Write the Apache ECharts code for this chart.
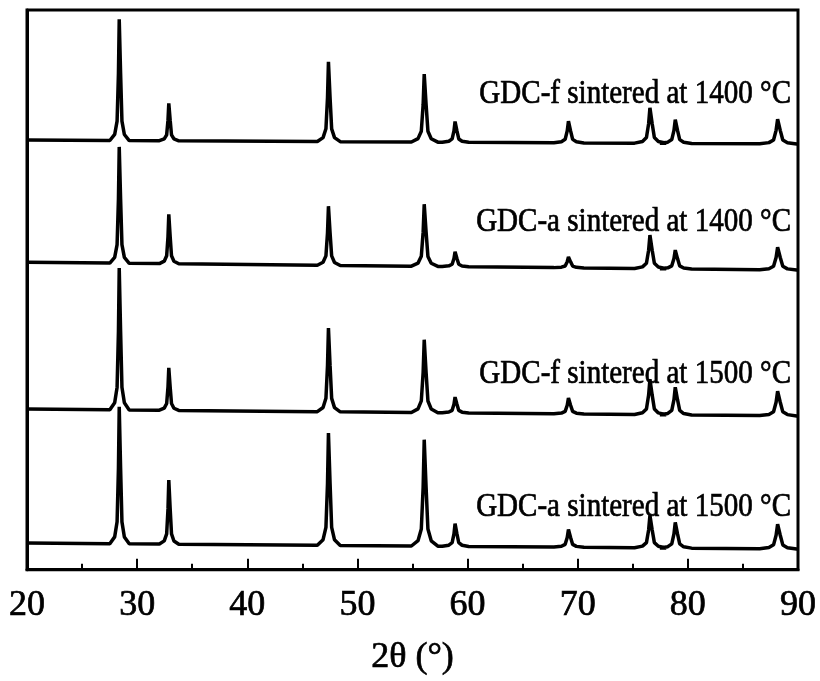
<!DOCTYPE html>
<html>
<head>
<meta charset="utf-8">
<script src="https://cdn.jsdelivr.net/npm/echarts@6/dist/echarts.min.js"></script>
<style>
  html, body { margin: 0; padding: 0; background: #fff; }
  #chart { width: 820px; height: 681px; }
</style>
</head>
<body>
<div id="chart"></div>
<script>
// 2theta tick labels
var xTicks = [20, 30, 40, 50, 60, 70, 80, 90];

// peak positions (2theta) and half widths
var peakPos   = [28.4, 32.9, 47.4, 56.1, 58.9, 69.2, 76.6, 78.9, 88.2];
var peakWidth = [0.22, 0.22, 0.26, 0.3, 0.3, 0.34, 0.36, 0.36, 0.42];

// baseline at 20 and 90 deg, peak heights (a.u.) for every pattern
var names = ['GDC-f sintered at 1400 \u00b0C', 'GDC-a sintered at 1400 \u00b0C',
             'GDC-f sintered at 1500 \u00b0C', 'GDC-a sintered at 1500 \u00b0C'];
var baseF1400 = [436, 432];
var baseA1400 = [312, 304];
var baseF1500 = [163, 156];
var baseA1500 = [27, 21];
var heightF1400 = [123, 38, 81, 69, 21, 22, 36, 24, 25];
var heightA1400 = [118, 50, 60, 63, 15, 11, 34, 19, 23];
var heightF1500 = [144, 43, 85, 74, 16, 16, 36, 28, 25];
var heightA1500 = [139, 65, 114, 108, 23, 18, 33, 26, 25];

// outline of one peak: offset (in half widths) and fraction of height
var shapeOff  = [-4, -2, -1, -0.45, -0.12, 0.12, 0.45, 1, 2, 4];
var shapeFrac = [0, 0.05, 0.16, 0.55, 1, 1, 0.55, 0.16, 0.05, 0];

function buildPattern(base, heights) {
    var pts = [];
    function b(x) { return base[0] + (base[1] - base[0]) * (x - 20) / 70; }
    pts.push([20, b(20)]);
    for (var i = 0; i < peakPos.length; i++) {
        for (var k = 0; k < shapeOff.length; k++) {
            var x = peakPos[i] + shapeOff[k] * peakWidth[i];
            pts.push([x, b(x) + heights[i] * shapeFrac[k]]);
        }
    }
    pts.push([90, b(90)]);
    return pts;
}

var patterns = [
    buildPattern(baseF1400, heightF1400),
    buildPattern(baseA1400, heightA1400),
    buildPattern(baseF1500, heightF1500),
    buildPattern(baseA1500, heightA1500)
];
var labelY = [94, 222, 374, 507];

var chart = echarts.init(document.getElementById('chart'));
var font = '"Liberation Serif", "Times New Roman", serif';

var series = [];
var graphics = [];
for (var i = 0; i < patterns.length; i++) {
    series.push({
        name: names[i],
        type: 'line',
        data: patterns[i],
        showSymbol: false,
        animation: false,
        lineStyle: { color: '#000', width: 3.5 }
    });
    graphics.push({
        type: 'text',
        x: 791,
        y: labelY[i],
        scaleX: 0.88,
        style: {
            text: names[i],
            fontSize: 33,
            fontFamily: font,
            fill: '#000',
            stroke: '#000',
            lineWidth: 0.7,
            textAlign: 'right',
            textVerticalAlign: 'middle',
            align: 'right',
            verticalAlign: 'middle'
        }
    });
}

chart.setOption({
    animation: false,
    grid: {
        left: 27, right: 22, top: 10, bottom: 103,
        show: true, borderColor: '#000', borderWidth: 3
    },
    xAxis: {
        type: 'value',
        min: 20, max: 90, interval: 10,
        name: '2\u03b8 (\u00b0)',
        nameLocation: 'middle',
        nameGap: 70,
        nameTextStyle: {
            fontSize: 36, fontFamily: font, color: '#000',
            textBorderColor: '#000', textBorderWidth: 0.7
        },
        axisLine: { show: true, lineStyle: { color: '#000', width: 3 } },
        axisTick: { show: true, inside: true, length: 11, lineStyle: { color: '#000', width: 2 } },
        minorTick: { show: true, splitNumber: 2, length: 6, lineStyle: { color: '#000', width: 2 } },
        axisLabel: {
            fontSize: 36, fontFamily: font, color: '#000', margin: 18,
            textBorderColor: '#000', textBorderWidth: 0.7,
            formatter: function (v) { return xTicks.indexOf(v) >= 0 ? String(v) : ''; }
        },
        splitLine: { show: false }
    },
    yAxis: {
        type: 'value',
        min: 0, max: 568,
        axisLine: { show: true, lineStyle: { color: '#000', width: 3 } },
        axisTick: { show: false },
        axisLabel: { show: false },
        splitLine: { show: false }
    },
    series: series,
    graphic: graphics
});
</script>
</body>
</html>
